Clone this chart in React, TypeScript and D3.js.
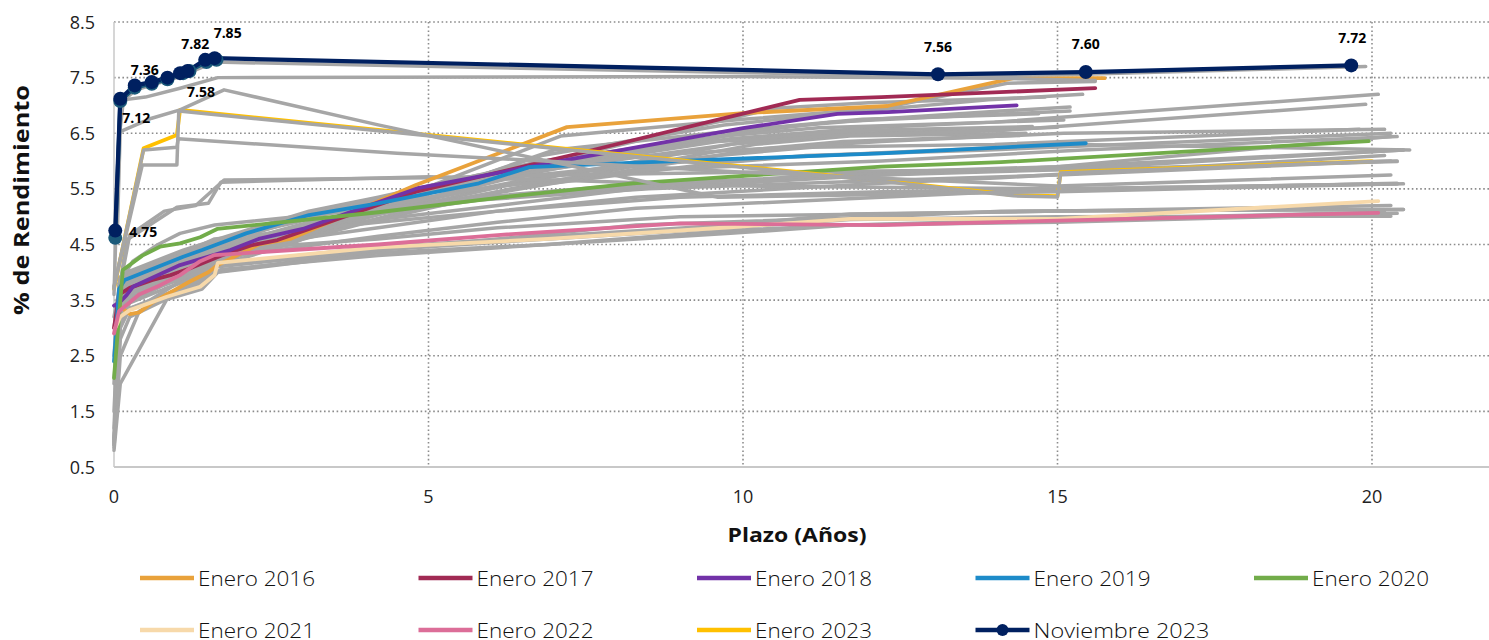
import React from 'react';
import * as d3 from 'd3';

type Pt = [number, number];

// ---------- axes ----------
const xTicks: number[] = [0, 5, 10, 15, 20];
const yTicks: number[] = [0.5, 1.5, 2.5, 3.5, 4.5, 5.5, 6.5, 7.5, 8.5];
const yTickLabels: string[] = ['0.5', '1.5', '2.5', '3.5', '4.5', '5.5', '6.5', '7.5', '8.5'];

// ---------- highlighted series (plazo en años, % rendimiento) ----------
const enero2016: Pt[] = [[0.08, 3.4], [0.25, 3.25], [0.4, 3.28], [0.6, 3.45], [1.2, 3.83], [1.5, 4.0], [1.65, 4.13], [2.3, 4.5], [2.8, 4.6], [4.8, 5.57], [7.2, 6.61], [10.0, 6.86], [12.3, 6.99], [14.3, 7.49], [15.75, 7.49]];
const enero2017: Pt[] = [[0.0, 3.0], [0.08, 3.6], [0.25, 3.72], [0.6, 3.86], [0.9, 3.95], [1.2, 4.07], [1.7, 4.3], [2.2, 4.49], [2.6, 4.58], [4.8, 5.45], [6.8, 5.98], [7.4, 6.14], [10.9, 7.1], [12.2, 7.15], [15.6, 7.31]];
const enero2018: Pt[] = [[0.0, 3.4], [0.08, 3.45], [0.2, 3.59], [0.3, 3.74], [1.05, 4.13], [1.85, 4.4], [2.3, 4.6], [3.0, 4.78], [4.85, 5.52], [7.2, 6.02], [10.0, 6.59], [11.5, 6.85], [12.3, 6.88], [14.35, 7.0]];
const enero2019: Pt[] = [[0.0, 2.4], [0.08, 3.7], [0.17, 3.86], [1.1, 4.28], [1.4, 4.4], [1.75, 4.55], [2.1, 4.7], [3.1, 5.03], [4.2, 5.24], [5.8, 5.6], [6.6, 5.89], [8.5, 5.98], [12.2, 6.14], [15.45, 6.32]];
const enero2020: Pt[] = [[0.0, 2.1], [0.14, 4.04], [0.45, 4.3], [0.73, 4.46], [1.05, 4.52], [1.37, 4.63], [1.64, 4.78], [4.2, 5.08], [6.1, 5.34], [8.25, 5.6], [9.3, 5.68], [12.2, 5.9], [14.1, 5.98], [19.95, 6.36]];
const enero2021: Pt[] = [[0.02, 3.0], [0.1, 3.2], [0.25, 3.32], [0.84, 3.56], [1.37, 3.74], [1.6, 3.95], [1.65, 4.17], [4.2, 4.45], [6.9, 4.6], [9.8, 4.81], [11.7, 4.96], [15.0, 4.96], [20.1, 5.28]];
const enero2022: Pt[] = [[0.0, 2.9], [0.08, 3.3], [0.4, 3.6], [0.7, 3.75], [1.05, 3.95], [1.37, 4.2], [1.6, 4.31], [4.2, 4.5], [6.1, 4.67], [9.0, 4.88], [12.2, 4.85], [20.1, 5.07]];
const enero2023: Pt[] = [[0.0, 3.7], [0.47, 6.23], [1.0, 6.47], [1.05, 6.92], [4.2, 6.56], [12.2, 5.65], [14.3, 5.39], [15.0, 5.37], [15.05, 5.8], [20.0, 6.0]];
const octubre2023: Pt[] = [[0.02, 4.62], [0.1, 7.08], [0.33, 7.32], [0.6, 7.39], [0.85, 7.47], [1.1, 7.58], [1.2, 7.62], [1.47, 7.78], [1.63, 7.82]];
const noviembre2023: Pt[] = [[0.02, 4.75], [0.1, 7.12], [0.33, 7.36], [0.6, 7.42], [0.85, 7.5], [1.05, 7.58], [1.17, 7.62], [1.45, 7.82], [1.6, 7.85], [13.1, 7.56], [15.45, 7.6], [19.67, 7.72]];
// data-label placement for Noviembre 2023 (offset of label centre from point, px); null = no label
const novLabelOffsets: ([number, number] | null)[] = [[28, 1], [16, 19], [10, -15], null, null, [21, 19], null, [-10, -16], [13, -25], [0, -27], [0, -28], [1, -27]];

// ---------- other months (grey) ----------
const gray2016: Pt[][] = [
  [[0.08, 3.45], [0.25, 3.35], [0.5, 3.45], [1, 3.8], [1.6, 4.1], [2.9, 4.55], [4.8, 5.45], [7.1, 6.45], [10, 6.75], [12.2, 6.95], [14.2, 7.4], [15.6, 7.43]],
  [[0.08, 3.5], [0.25, 3.5], [0.5, 3.6], [1, 3.9], [1.6, 4.2], [2.8, 4.6], [4.7, 5.3], [7, 6.2], [9.9, 6.55], [12.1, 6.75], [14.1, 6.9], [15.2, 6.97]],
  [[0.08, 3.6], [0.25, 3.65], [0.5, 3.75], [1, 3.95], [1.6, 4.25], [2.7, 4.55], [4.6, 5.2], [6.9, 5.95], [9.8, 6.4], [12, 6.6], [14, 6.7], [15.1, 6.74]],
  [[0.08, 3.7], [0.25, 3.75], [0.5, 3.85], [1, 4.05], [1.6, 4.35], [2.6, 4.6], [4.5, 5.25], [6.8, 6.1], [9.7, 6.65], [11.9, 6.9], [13.9, 7.1], [15.4, 7.2]],
  [[0.08, 3.75], [0.25, 3.8], [0.5, 3.9], [1, 4.1], [1.5, 4.35], [2.5, 4.55], [4.4, 5.1], [6.7, 5.85], [9.6, 6.35], [11.8, 6.5], [13.8, 6.55], [15, 6.61]],
];
const gray2017: Pt[][] = [
  [[0.08, 3.65], [0.25, 3.75], [0.5, 3.85], [1, 4.0], [1.6, 4.3], [2.4, 4.55], [4.6, 5.35], [6.6, 5.9], [10.5, 6.95], [12, 7.05], [14.8, 7.15]],
  [[0.08, 3.6], [0.25, 3.7], [0.5, 3.8], [1, 4.0], [1.6, 4.25], [2.3, 4.45], [4.5, 5.2], [6.5, 5.75], [10.4, 6.6], [11.9, 6.75], [14.7, 6.85]],
  [[0.08, 3.55], [0.25, 3.65], [0.5, 3.75], [1, 3.95], [1.6, 4.2], [2.2, 4.4], [4.4, 5.1], [6.4, 5.6], [10.3, 6.4], [11.8, 6.55], [14.6, 6.62]],
  [[0.08, 3.5], [0.25, 3.6], [0.5, 3.7], [1, 3.9], [1.6, 4.15], [2.1, 4.35], [4.3, 5.0], [6.3, 5.5], [10.2, 6.3], [11.7, 6.45], [14.5, 6.5]],
  [[0.08, 3.45], [0.25, 3.55], [0.5, 3.65], [1, 3.85], [1.6, 4.1], [2, 4.3], [4.2, 4.95], [6.2, 5.45], [10.1, 6.2], [11.6, 6.35], [14.4, 6.46]],
];
const gray2018: Pt[][] = [
  [[0.08, 3.55], [0.25, 3.7], [0.5, 3.8], [1, 4.1], [1.8, 4.4], [3, 4.75], [4.8, 5.4], [7, 5.95], [9.9, 6.5], [11.4, 6.7], [14.2, 6.85], [15.2, 6.9]],
  [[0.08, 3.7], [0.25, 3.85], [0.5, 3.95], [1, 4.2], [1.8, 4.5], [3, 4.85], [4.7, 5.35], [6.9, 5.85], [9.8, 6.3], [11.3, 6.45], [14.1, 6.55], [19.9, 7.02]],
  [[0.08, 3.8], [0.25, 3.95], [0.5, 4.05], [1, 4.3], [1.7, 4.6], [2.9, 4.9], [4.6, 5.45], [6.8, 6.0], [9.7, 6.45], [11.2, 6.6], [14, 6.7], [20.1, 7.2]],
  [[0.08, 3.65], [0.25, 3.8], [0.5, 3.9], [1, 4.15], [1.7, 4.45], [2.9, 4.7], [4.5, 5.2], [6.7, 5.7], [9.6, 6.1], [11.1, 6.25], [14, 6.3], [19.8, 6.57]],
  [[0.08, 3.6], [0.25, 3.75], [0.5, 3.85], [1, 4.1], [1.7, 4.4], [2.8, 4.65], [4.4, 5.1], [6.6, 5.55], [9.5, 5.95], [11, 6.1], [13.9, 6.2], [20.3, 6.5]],
];
const gray2019: Pt[][] = [
  [[0.08, 3.8], [0.2, 3.9], [1.1, 4.3], [1.8, 4.55], [3.1, 5.0], [4.2, 5.2], [5.8, 5.5], [8.5, 5.85], [12.2, 6.0], [15.4, 6.2], [20.4, 6.44]],
  [[0.08, 3.85], [0.2, 3.95], [1.1, 4.35], [1.8, 4.6], [3.1, 5.05], [4.2, 5.3], [5.8, 5.65], [8.5, 5.95], [12.2, 6.15], [15.3, 6.3], [20.6, 6.2]],
  [[0.08, 3.75], [0.2, 3.85], [1.1, 4.25], [1.8, 4.5], [3.1, 4.9], [4.2, 5.1], [5.8, 5.35], [8.5, 5.6], [12.2, 5.75], [15.2, 5.85], [20.4, 5.99]],
  [[0.08, 3.9], [0.2, 4.0], [1.1, 4.4], [1.8, 4.65], [3.1, 5.1], [4.2, 5.35], [5.8, 5.75], [8.5, 6.1], [12.2, 6.35], [15.1, 6.5], [20.2, 6.57]],
  [[0.08, 3.7], [0.2, 3.8], [1.1, 4.2], [1.8, 4.45], [3.1, 4.85], [4.2, 5.05], [5.8, 5.3], [8.5, 5.5], [12.2, 5.65], [15.0, 5.75], [20.3, 6.0]],
];
const gray2020: Pt[][] = [
  [[0, 1.0], [0.08, 3.2], [0.25, 3.6], [0.7, 4.0], [1.05, 4.2], [1.6, 4.4], [4.2, 4.8], [6.1, 5.1], [8.3, 5.35], [12.2, 5.6], [14.1, 5.7], [20.2, 6.1]],
  [[0, 0.9], [0.08, 3.0], [0.25, 3.5], [0.7, 3.85], [1.05, 4.05], [1.6, 4.25], [4.2, 4.65], [6.1, 4.9], [8.3, 5.15], [12.2, 5.35], [14.1, 5.45], [20.4, 5.6]],
  [[0, 0.8], [0.1, 2.0], [0.9, 3.64], [1.6, 4.0], [4.2, 4.4], [6.1, 4.6], [8.3, 4.85], [12.2, 5.0], [14.1, 5.1], [20.5, 5.13]],
  [[0, 1.2], [0.08, 3.4], [0.25, 3.8], [0.7, 4.15], [1.05, 4.3], [1.6, 4.5], [4.2, 4.95], [6.1, 5.2], [8.3, 5.5], [12.2, 5.75], [14.1, 5.85], [20.5, 6.2]],
];
const gray2021: Pt[][] = [
  [[0, 0.85], [0.1, 2.8], [0.25, 3.2], [0.8, 3.5], [1.4, 3.7], [1.65, 4.0], [4.2, 4.35], [6.9, 4.5], [9.8, 4.7], [11.7, 4.85], [15, 4.9], [20.4, 5.06]],
  [[0, 0.9], [0.1, 3.0], [0.25, 3.35], [0.8, 3.6], [1.4, 3.85], [1.65, 4.1], [4.2, 4.4], [6.9, 4.6], [9.8, 4.8], [11.7, 4.95], [15, 5.0], [20.3, 5.01]],
  [[0, 1.0], [0.1, 3.1], [0.25, 3.45], [0.8, 3.7], [1.4, 3.95], [1.65, 4.15], [4.2, 4.45], [6.9, 4.65], [9.8, 4.85], [11.7, 5.05], [15, 5.1], [20.5, 5.13]],
  [[0, 0.95], [0.1, 2.5], [0.4, 3.3], [0.9, 3.6], [1.4, 3.8], [1.7, 4.05], [4.2, 4.3], [6.9, 4.5], [9.8, 4.75], [11.7, 4.85], [15, 4.95], [20.2, 5.08]],
];
const gray2022: Pt[][] = [
  [[0, 1.5], [0.08, 3.4], [0.4, 3.7], [0.7, 3.85], [1.05, 4.05], [1.4, 4.3], [1.6, 4.4], [4.2, 4.6], [6.1, 4.8], [9, 5.0], [12.2, 5.05], [20.3, 5.2]],
  [[0, 2.0], [0.08, 3.6], [0.4, 3.9], [0.7, 4.1], [1.05, 4.3], [1.4, 4.5], [1.6, 4.6], [4.2, 4.9], [6.1, 5.1], [9, 5.35], [12.2, 5.45], [20.4, 5.59]],
  [[0, 2.5], [0.08, 3.8], [0.3, 4.2], [0.7, 4.5], [1.05, 4.7], [1.6, 4.85], [4.2, 5.15], [6.1, 5.35], [9, 5.6], [12.2, 5.8], [15, 5.9], [20.3, 6.44]],
  [[0, 3.0], [0.2, 4.58], [1.0, 5.17], [1.5, 5.24], [1.7, 5.62], [5, 5.72], [7.2, 5.65], [10, 5.55], [15, 5.5], [20.4, 5.59]],
  [[0, 3.2], [0.25, 4.67], [0.8, 5.1], [1.3, 5.2], [1.75, 5.66], [5, 5.7], [7.2, 5.75], [10, 5.8], [15, 5.85], [20.5, 6.2]],
];
const gray2023: Pt[][] = [
  [[0, 3.75], [0.45, 5.93], [1.0, 5.93], [1.03, 6.9], [4.2, 6.545], [12.2, 5.635], [14.3, 5.375], [15.0, 5.355], [15.05, 5.785], [20.0, 5.99], [20.4, 6.0]],
  [[0, 3.72], [0.47, 6.2], [1.0, 6.25], [1.02, 6.4], [4.5, 6.14], [7.2, 5.98], [10, 5.8], [15.0, 5.55], [20.3, 5.75]],
  [[0, 3.6], [0.08, 6.52], [0.6, 6.77], [1.05, 6.92], [1.75, 7.28], [4.2, 6.65], [9.6, 5.35], [15, 5.45], [20.5, 5.59]],
  [[0.05, 4.6], [0.1, 6.6], [0.15, 7.1], [0.5, 7.15], [1.05, 7.31], [1.65, 7.5], [10, 7.52], [14, 7.49], [15.6, 7.45]],
  [[0.02, 4.6], [0.1, 7.05], [0.35, 7.28], [1.0, 7.5], [1.6, 7.78], [13.1, 7.52], [15.4, 7.56], [19.9, 7.7]],
];

// ---------- legend ----------
const legendNames: string[] = ['Enero 2016', 'Enero 2017', 'Enero 2018', 'Enero 2019', 'Enero 2020', 'Enero 2021', 'Enero 2022', 'Enero 2023', 'Noviembre 2023'];
const legendColors: string[] = ['#E9A23B', '#A12A54', '#7232A8', '#1D8BC9', '#72AC4A', '#F7D9AA', '#DC6E98', '#FFC000', '#002060'];

const GRAY = '#A6A6A6';

export default function App() {
  const W = 1489, H = 640;
  const x0 = 114, xPerYear = 62.9;
  const x = d3.scaleLinear().domain([0, 22]).range([x0, x0 + 22 * xPerYear]);
  const y = d3.scaleLinear().domain([0.5, 8.5]).range([467, 22]);
  const line = d3.line<Pt>().x(d => x(d[0])).y(d => y(d[1]));

  const colored: [Pt[], string][] = [
    [enero2016, legendColors[0]], [enero2017, legendColors[1]], [enero2018, legendColors[2]],
    [enero2019, legendColors[3]], [enero2020, legendColors[4]], [enero2021, legendColors[5]],
    [enero2022, legendColors[6]],
  ];
  const grayEarly = [...gray2016, ...gray2017, ...gray2018, ...gray2019, ...gray2020, ...gray2021, ...gray2022];
  const font = "'Open Sans', 'DejaVu Sans', sans-serif";
  const plotRight = W;

  return (
    <svg width={W} height={H} style={{ position: 'absolute', left: 0, top: 0, background: '#fff' }}>
      {/* grid */}
      {yTicks.slice(1).map(t => (
        <line key={'gy' + t} x1={x0} x2={plotRight} y1={y(t)} y2={y(t)} stroke="#8c8c8c" strokeWidth={1.6} strokeDasharray="1.6 2.6" />
      ))}
      {xTicks.slice(1).map(t => (
        <line key={'gx' + t} x1={x(t)} x2={x(t)} y1={y(8.5)} y2={y(0.5)} stroke="#8c8c8c" strokeWidth={1.6} strokeDasharray="1.6 2.6" />
      ))}
      <line x1={x0} x2={x0} y1={y(8.5)} y2={y(0.5)} stroke="#c8c8c8" strokeWidth={1.5} />
      <line x1={x0} x2={plotRight} y1={y(0.5)} y2={y(0.5)} stroke="#c8c8c8" strokeWidth={2} />

      {/* tick labels */}
      {yTicks.map((t, i) => (
        <text key={'yl' + t} x={95} y={y(t) + 6.5} textAnchor="end" fontFamily={font} fontSize={18} fill="#222">{yTickLabels[i]}</text>
      ))}
      {xTicks.map(t => (
        <text key={'xl' + t} x={x(t)} y={503} textAnchor="middle" fontFamily={font} fontSize={18} fill="#222">{t}</text>
      ))}
      <text x={797} y={542} textAnchor="middle" fontFamily={font} fontWeight={700} fontSize={19} fill="#111" textLength={139} lengthAdjust="spacingAndGlyphs">Plazo (Años)</text>
      <text transform="translate(29,200) rotate(-90)" textAnchor="middle" fontFamily={font} fontWeight={700} fontSize={21} fill="#111" textLength={230} lengthAdjust="spacingAndGlyphs">% de Rendimiento</text>

      {/* series */}
      <g fill="none" strokeLinejoin="round" strokeLinecap="round">
        {grayEarly.map((s, i) => <path key={'g' + i} d={line(s) || ''} stroke={GRAY} strokeWidth={3.5} />)}
        {colored.map(([s, c], i) => <path key={'c' + i} d={line(s) || ''} stroke={c} strokeWidth={3.8} />)}
        <path d={line(enero2023) || ''} stroke={legendColors[7]} strokeWidth={3.8} />
        {gray2023.map((s, i) => <path key={'g23' + i} d={line(s) || ''} stroke={GRAY} strokeWidth={3.5} />)}
        <path d={line(octubre2023) || ''} stroke="#1B5A7A" strokeWidth={4} />
        <path d={line(noviembre2023) || ''} stroke={legendColors[8]} strokeWidth={4.2} />
      </g>
      {octubre2023.map((p, i) => <circle key={'om' + i} cx={x(p[0])} cy={y(p[1])} r={7} fill="#1B5A7A" />)}
      {noviembre2023.map((p, i) => <circle key={'nm' + i} cx={x(p[0])} cy={y(p[1])} r={7} fill={legendColors[8]} />)}
      {noviembre2023.map((p, i) => {
        const off = novLabelOffsets[i];
        if (!off) return null;
        return (
          <text key={'nl' + i} x={x(p[0]) + off[0]} y={y(p[1]) + off[1] + 5} textAnchor="middle" fontFamily={font} fontWeight={700} fontSize={14} fill="#000">{p[1].toFixed(2)}</text>
        );
      })}

      {/* legend */}
      {legendNames.map((name, i) => {
        const col = i % 5, row = Math.floor(i / 5);
        const lx = 140 + col * 278.5;
        const ly = row === 0 ? 578 : 630;
        const isNov = i === 8;
        return (
          <g key={'lg' + i}>
            <line x1={lx} x2={lx + 54} y1={ly} y2={ly} stroke={legendColors[i]} strokeWidth={4.5} />
            {isNov && <circle cx={lx + 27} cy={ly} r={6} fill={legendColors[i]} />}
            <text x={lx + 58} y={ly + 7.5} fontFamily={font} fontWeight={300} fontSize={21} fill="#111" textLength={isNov ? 176 : 117} lengthAdjust="spacingAndGlyphs">{name}</text>
          </g>
        );
      })}
    </svg>
  );
}
